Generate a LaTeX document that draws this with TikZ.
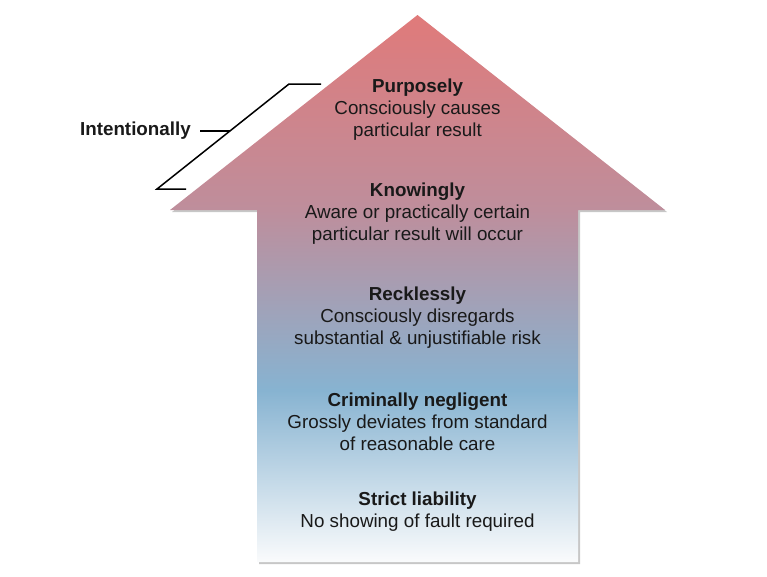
\documentclass[tikz,border=0pt]{standalone}
\usepackage{fontspec}
\setmainfont{Liberation Sans}
\definecolor{cwhite}{RGB}{250,251,252}
\definecolor{cblue}{RGB}{135,179,209}
\definecolor{cmauve}{RGB}{190,142,156}
\definecolor{cred}{RGB}{224,122,122}
\definecolor{textc}{RGB}{25,25,25}
\pgfdeclareverticalshading{arrowshade}{100bp}{color(0bp)=(cwhite); color(25bp)=(cwhite); color(40.7bp)=(cblue); color(57.2bp)=(cmauve); color(75bp)=(cred); color(100bp)=(cred)}
\begin{document}
\begin{tikzpicture}[x=1pt,y=-1pt,
  txt/.style={font=\fontsize{18.8}{22}\selectfont, text=textc, align=center, inner sep=0pt},
  bracket/.style={draw=black, line width=1.5pt}]
\useasboundingbox (0,0) rectangle (767,576);
% shadow
\fill[black, opacity=0.22, xshift=2pt, yshift=-2pt] (417.5,15) -- (665,210) -- (578,210) -- (578,562) -- (257,562) -- (257,210) -- (170,210) -- cycle;
% arrow
\path[shading=arrowshade] (417.5,15) -- (665,210) -- (578,210) -- (578,562) -- (257,562) -- (257,210) -- (170,210) -- cycle;
% texts
\node[txt] (p) at (417.5,110) {\textbf{Purposely}\\Consciously causes\\particular result};
\node[txt] (k) at (417.5,214) {\textbf{Knowingly}\\Aware or practically certain\\particular result will occur};
\node[txt] (r) at (417.5,318) {\textbf{Recklessly}\\Consciously disregards\\substantial \& unjustifiable risk};
\node[txt] (c) at (417.5,422) {\textbf{Criminally negligent}\\Grossly deviates from standard\\of reasonable care};
\node[txt] (s) at (417.5,512) {\textbf{Strict liability}\\No showing of fault required};
% bracket
\node[txt, anchor=east] (int) at (191,131) {\textbf{Intentionally}};
\coordinate (bt) at (321,84);
\coordinate (btc) at (289,84);
\coordinate (bbc) at (157,189);
\coordinate (bb) at (186,189);
\coordinate (jn) at (230,131);
\draw[bracket] (bt) -- (btc) -- (bbc) -- (bb);
\draw[bracket, shorten <=9pt] (int.east) -- (jn);
\end{tikzpicture}
\end{document}
